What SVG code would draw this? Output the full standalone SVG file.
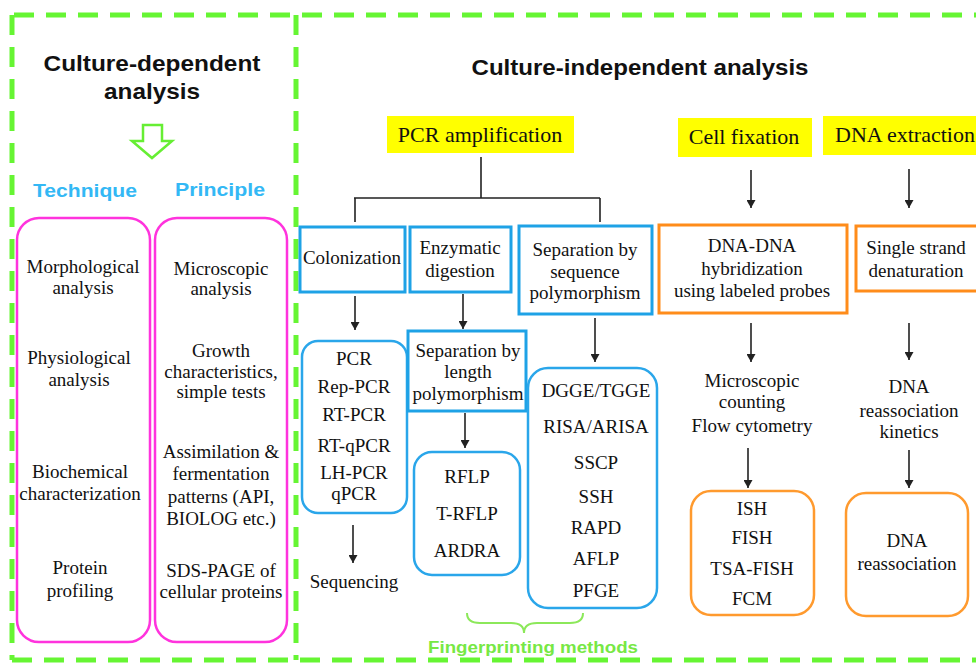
<svg xmlns="http://www.w3.org/2000/svg" width="976" height="663" viewBox="0 0 976 663">
<style>
.dash{stroke:#66f533;stroke-width:5;stroke-dasharray:20 12;fill:none}
.h{font-family:"Liberation Sans",Arial,sans-serif;font-weight:bold;text-anchor:middle}
.s{font-family:"Liberation Serif","Times New Roman",serif;font-size:19px;fill:#111;text-anchor:middle}
.y{font-size:22px}
.mag{fill:#fff;stroke:#ff33dd;stroke-width:2.5}
.blue{fill:#fff;stroke:#1ea2e6;stroke-width:3}
.blueR{fill:#fff;stroke:#2aa6ea;stroke-width:2.5}
.org{fill:#fff;stroke:#ff8c1a;stroke-width:3}
.orgR{fill:#fff;stroke:#ff9a2e;stroke-width:2.5}
.yel{fill:#ffff00}
.ln{stroke:#222;stroke-width:1.6;fill:none}
.ar{stroke:#222;stroke-width:1.6;fill:none;marker-end:url(#ah)}
</style>
<defs>
<marker id="ah" markerUnits="userSpaceOnUse" markerWidth="8" markerHeight="9" refX="8" refY="4.5" orient="auto">
<path d="M0,0 L8,4.5 L0,9 z" fill="#222"/>
</marker>
</defs>
<rect width="976" height="663" fill="#fff"/>
<g id="frame">
<line class="dash" x1="14" y1="15" x2="990" y2="15"/>
<line class="dash" x1="12" y1="15" x2="12" y2="660"/>
<line class="dash" x1="12" y1="660" x2="990" y2="660"/>
<line class="dash" x1="296" y1="15" x2="296" y2="660"/>
</g>
<g id="culture-dependent">
<text class="h" x="152" y="71" font-size="22" fill="#111" textLength="217" lengthAdjust="spacingAndGlyphs">Culture-dependent</text>
<text class="h" x="152" y="99" font-size="22" fill="#111" textLength="96" lengthAdjust="spacingAndGlyphs">analysis</text>
<polygon points="143,125 162,125 162,141 172,141 152,158 132,141 143,141" fill="#fff" stroke="#66ee33" stroke-width="2.5"/>
<text class="h" x="85" y="197" font-size="19" fill="#33b8f5" textLength="104" lengthAdjust="spacingAndGlyphs">Technique</text>
<text class="h" x="220" y="196" font-size="19" fill="#33b8f5" textLength="90" lengthAdjust="spacingAndGlyphs">Principle</text>
</g>
<g id="technique">
<rect class="mag" x="17" y="218" width="133" height="424" rx="22"/>
<text class="s" x="83" y="273">Morphological</text>
<text class="s" x="83" y="294">analysis</text>
<text class="s" x="79" y="364">Physiological</text>
<text class="s" x="79" y="386">analysis</text>
<text class="s" x="80" y="478">Biochemical</text>
<text class="s" x="80" y="500">characterization</text>
<text class="s" x="80" y="574">Protein</text>
<text class="s" x="80" y="597">profiling</text>
</g>
<g id="principle">
<rect class="mag" x="155" y="218" width="132" height="424" rx="22"/>
<text class="s" x="221" y="275">Microscopic</text>
<text class="s" x="221" y="295">analysis</text>
<text class="s" x="221" y="357">Growth</text>
<text class="s" x="221" y="378">characteristics,</text>
<text class="s" x="221" y="398">simple tests</text>
<text class="s" x="221" y="458">Assimilation &amp;</text>
<text class="s" x="221" y="480">fermentation</text>
<text class="s" x="221" y="503">patterns (API,</text>
<text class="s" x="221" y="525">BIOLOG etc.)</text>
<text class="s" x="221" y="577">SDS-PAGE of</text>
<text class="s" x="221" y="598">cellular proteins</text>
</g>
<g id="title-independent">
<text class="h" x="640" y="75" font-size="22" fill="#111" textLength="337" lengthAdjust="spacingAndGlyphs">Culture-independent analysis</text>
</g>
<g id="pcr-amplification">
<rect class="yel" x="387" y="116" width="187" height="37"/>
<text class="s y" x="480" y="142">PCR amplification</text>
</g>
<g id="cell-fixation">
<rect class="yel" x="678" y="118" width="134" height="39"/>
<text class="s y" x="744" y="144">Cell fixation</text>
</g>
<g id="dna-extraction">
<rect class="yel" x="823" y="116" width="160" height="39"/>
<text class="s y" x="905" y="142">DNA extraction</text>
</g>
<g id="colonization">
<rect class="blue" x="300" y="227" width="105" height="65"/>
<text class="s" x="352" y="264">Colonization</text>
</g>
<g id="enzymatic">
<rect class="blue" x="410" y="227" width="101" height="65"/>
<text class="s" x="460" y="254">Enzymatic</text>
<text class="s" x="460" y="277">digestion</text>
</g>
<g id="sequence-polymorphism">
<rect class="blue" x="519" y="226" width="133" height="88"/>
<text class="s" x="585" y="256">Separation by</text>
<text class="s" x="585" y="278">sequence</text>
<text class="s" x="585" y="299">polymorphism</text>
</g>
<g id="hybridization">
<rect class="org" x="659" y="225" width="188" height="88"/>
<text class="s" x="752" y="252">DNA-DNA</text>
<text class="s" x="752" y="275">hybridization</text>
<text class="s" x="752" y="297">using labeled probes</text>
</g>
<g id="denaturation">
<rect class="org" x="856" y="226" width="135" height="65"/>
<text class="s" x="916" y="254">Single strand</text>
<text class="s" x="916" y="277">denaturation</text>
</g>
<g id="pcr-list">
<rect class="blueR" x="302" y="341" width="105" height="172" rx="16"/>
<text class="s" x="354" y="365">PCR</text>
<text class="s" x="354" y="393">Rep-PCR</text>
<text class="s" x="354" y="421">RT-PCR</text>
<text class="s" x="354" y="452">RT-qPCR</text>
<text class="s" x="354" y="479">LH-PCR</text>
<text class="s" x="354" y="500">qPCR</text>
</g>
<g id="sequencing">
<text class="s" x="354" y="588">Sequencing</text>
</g>
<g id="length-polymorphism">
<rect class="blue" x="408" y="331" width="118" height="80"/>
<text class="s" x="468" y="357">Separation by</text>
<text class="s" x="468" y="378">length</text>
<text class="s" x="468" y="400">polymorphism</text>
</g>
<g id="rflp-list">
<rect class="blueR" x="414" y="452" width="106" height="123" rx="18"/>
<text class="s" x="467" y="483">RFLP</text>
<text class="s" x="467" y="520">T-RFLP</text>
<text class="s" x="467" y="557">ARDRA</text>
</g>
<g id="dgge-list">
<rect class="blueR" x="528" y="368" width="129" height="240" rx="20"/>
<text class="s" x="596" y="397">DGGE/TGGE</text>
<text class="s" x="596" y="433">RISA/ARISA</text>
<text class="s" x="596" y="469">SSCP</text>
<text class="s" x="596" y="503">SSH</text>
<text class="s" x="596" y="534">RAPD</text>
<text class="s" x="596" y="565">AFLP</text>
<text class="s" x="596" y="597">PFGE</text>
</g>
<g id="fingerprinting">
<path d="M467,613 Q467,623 480,623 L511,623 Q524,623 524,633 Q524,623 537,623 L570,623 Q583,623 583,613" fill="none" stroke="#8ce85a" stroke-width="2"/>
<text class="h" x="533" y="653" font-size="17" fill="#77e844" textLength="210" lengthAdjust="spacingAndGlyphs">Fingerprinting methods</text>
</g>
<g id="microscopic-counting">
<text class="s" x="752" y="387">Microscopic</text>
<text class="s" x="752" y="408">counting</text>
<text class="s" x="752" y="432">Flow cytometry</text>
</g>
<g id="ish-list">
<rect class="orgR" x="691" y="491" width="123" height="124" rx="20"/>
<text class="s" x="752" y="515">ISH</text>
<text class="s" x="752" y="544">FISH</text>
<text class="s" x="752" y="575">TSA-FISH</text>
<text class="s" x="752" y="605">FCM</text>
</g>
<g id="reassociation-kinetics">
<text class="s" x="909" y="393">DNA</text>
<text class="s" x="909" y="417">reassociation</text>
<text class="s" x="909" y="438">kinetics</text>
</g>
<g id="dna-reassociation">
<rect class="orgR" x="846" y="493" width="122" height="123" rx="20"/>
<text class="s" x="907" y="547">DNA</text>
<text class="s" x="907" y="570">reassociation</text>
</g>
<g id="connectors">
<path class="ln" d="M481,157 V198 M354,198 H600 M355,198 V222 M600,198 V222"/>
<line class="ar" x1="355" y1="296" x2="355" y2="330"/>
<line class="ar" x1="463" y1="294" x2="463" y2="329"/>
<line class="ar" x1="595" y1="318" x2="595" y2="362"/>
<line class="ar" x1="751" y1="170" x2="751" y2="208"/>
<line class="ar" x1="909" y1="169" x2="909" y2="208"/>
<line class="ar" x1="353" y1="525" x2="353" y2="563"/>
<line class="ar" x1="465" y1="413" x2="465" y2="448"/>
<line class="ar" x1="751" y1="323" x2="751" y2="362"/>
<line class="ar" x1="748" y1="448" x2="748" y2="488"/>
<line class="ar" x1="909" y1="323" x2="909" y2="360"/>
<line class="ar" x1="909" y1="450" x2="909" y2="488"/>
</g>
</svg>
